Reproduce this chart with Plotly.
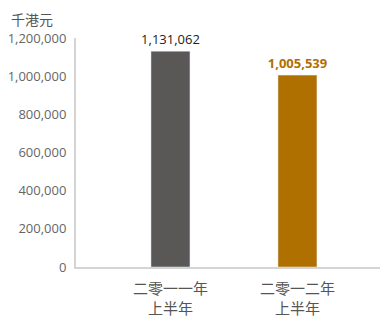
import plotly.graph_objects as go

categories = ["二零一一年<br>上半年", "二零一二年<br>上半年"]
values = [1131062, 1005539]
bar_colors = ["#5a5856", "#b07000"]
label_colors = ["#222222", "#b07000"]
label_texts = ["1,131,062", "1,005,539"]
tick_vals = [0, 200000, 400000, 600000, 800000, 1000000, 1200000]
tick_text = ["0", "200,000", "400,000", "600,000", "800,000", "1,000,000", "1,200,000"]

# page body has an 8px margin; figure is sized/offset to compensate
W, H = 380, 311
L, T, R, B = 68, 30, 0, 52

fig = go.Figure()
fig.add_trace(go.Bar(
    x=[0, 1], y=values, marker_color=bar_colors, width=0.307,
    text=[f"<b>{t}</b>" if i == 1 else t for i, t in enumerate(label_texts)],
    textposition="outside", cliponaxis=False, constraintext="none",
    textfont=dict(family="Open Sans, Noto Sans", size=13, color=label_colors),
    hoverinfo="skip",
))
fig.update_layout(
    width=W, height=H,
    margin=dict(l=L, r=R, t=T, b=B),
    plot_bgcolor="white", paper_bgcolor="white",
    showlegend=False,
    font=dict(family="Open Sans, Noto Sans CJK SC", color="#666666"),
    xaxis=dict(
        range=[-0.744, 1.713], tickvals=[0, 1], ticktext=categories,
        showline=True, linecolor="#d4d4d4", linewidth=2, showgrid=False, zeroline=False,
        tickfont=dict(family="Noto Sans CJK SC", size=15, color="#555555"),
        ticklabelstandoff=7, automargin=False,
    ),
    yaxis=dict(
        range=[0, 1200000], tickvals=tick_vals, ticktext=tick_text,
        showline=True, linecolor="#d4d4d4", linewidth=2, showgrid=False, zeroline=False,
        tickfont=dict(family="Open Sans", size=13, color="#666666"),
        ticklabelstandoff=5, automargin=False,
    ),
    annotations=[dict(
        text="千港元", xref="paper", yref="paper", showarrow=False,
        x=(2 - L) / (W - L - R), y=1 + T / (H - T - B),
        xanchor="left", yanchor="top", borderpad=0,
        font=dict(family="Noto Sans CJK SC", size=14, color="#555555"),
    )],
)
fig.write_html("out.html")
